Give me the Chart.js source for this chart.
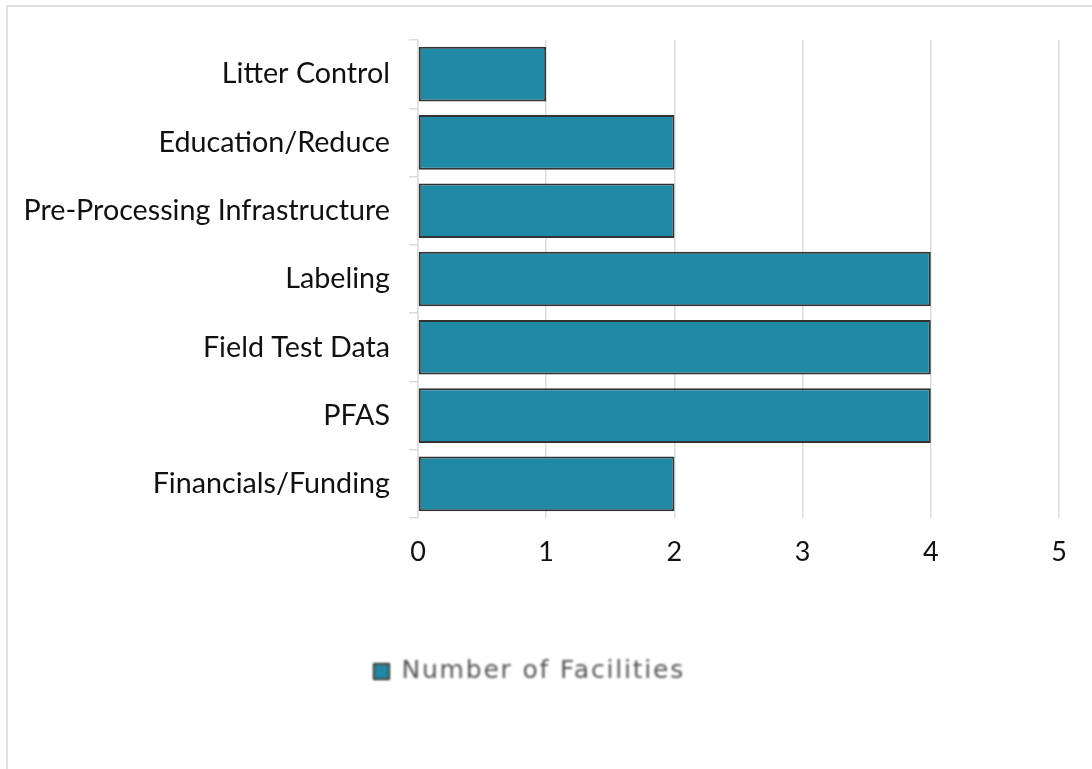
<!DOCTYPE html>
<html>
<head>
<meta charset="utf-8">
<script src="https://cdn.jsdelivr.net/npm/chart.js@4.4.1/dist/chart.umd.min.js"></script>
<style>
  html, body { margin: 0; padding: 0; background: #fff; }
  body { width: 1092px; height: 769px; position: relative; overflow: hidden; }
  .frame {
    position: absolute; left: 6px; top: 5px; right: -10px; bottom: -10px;
    border-top: 2px solid #e0e0e0; border-left: 2px solid #e0e0e0;
  }
  .wrap { position: absolute; left: 0; top: 0; width: 1092px; height: 769px; }
</style>
</head>
<body>
<div class="frame"></div>
<div class="wrap"><canvas id="facilitiesChart"></canvas></div>
<script>
  const categories = [
    'Litter Control',
    'Education/Reduce',
    'Pre-Processing Infrastructure',
    'Labeling',
    'Field Test Data',
    'PFAS',
    'Financials/Funding'
  ];
  const facilityCounts = [1, 2, 2, 4, 4, 4, 2];
  const seriesName = 'Number of Facilities';
  const xTicks = [0, 1, 2, 3, 4, 5];

  const barColor = '#208aa6';
  const gridColor = '#dcdcdc';

  const el = document.getElementById('facilitiesChart');
  const chart = new Chart(el, {
    type: 'bar',
    data: {
      labels: categories,
      datasets: [{
        label: seriesName,
        data: facilityCounts,
        backgroundColor: barColor,
        borderColor: '#333333',
        borderWidth: 2,
        borderSkipped: false,
        barPercentage: 0.8,
        categoryPercentage: 1
      }]
    },
    options: {
      indexAxis: 'y',
      responsive: true,
      maintainAspectRatio: false,
      animation: false,
      layout: { padding: { left: 0, right: 33, top: 40, bottom: 75 } },
      plugins: {
        legend: {
          position: 'bottom',
          labels: {
            boxWidth: 15,
            boxHeight: 15,
            padding: 10,
            color: '#555555',
            font: { family: 'DejaVu Sans', size: 25 }
          }
        },
        tooltip: { enabled: false }
      },
      scales: {
        x: {
          min: xTicks[0],
          max: xTicks[xTicks.length - 1],
          afterBuildTicks: (scale) => { scale.ticks = xTicks.map((v) => ({ value: v })); },
          afterFit: (scale) => { scale.height = 131; },
          grid: { color: gridColor, lineWidth: 1.5, drawTicks: false },
          border: { display: false },
          ticks: {
            padding: 18,
            color: '#111111',
            font: { family: 'Lato', size: 27 }
          }
        },
        y: {
          afterFit: (scale) => { scale.width = 418; },
          grid: { color: gridColor, lineWidth: 1.5, drawOnChartArea: false, tickLength: 9 },
          border: { display: true, color: gridColor, width: 1.5 },
          ticks: {
            padding: 19,
            color: '#111111',
            font: { family: 'Lato', size: 28.7 }
          }
        }
      }
    }
  });

  // the legend text in the picture is a little wider and softer than the rest
  const legend = chart.legend;
  const origFit = legend.fit.bind(legend);
  const origDraw = legend.draw.bind(legend);
  legend.fit = function() {
    chart.ctx.letterSpacing = '1.8px';
    origFit();
    chart.ctx.letterSpacing = '0px';
  };
  legend.draw = function() {
    const ctx = chart.ctx;
    ctx.save();
    ctx.letterSpacing = '1.8px';
    ctx.filter = 'blur(0.8px)';
    origDraw();
    ctx.restore();
  };
  chart.update();
</script>
</body>
</html>
